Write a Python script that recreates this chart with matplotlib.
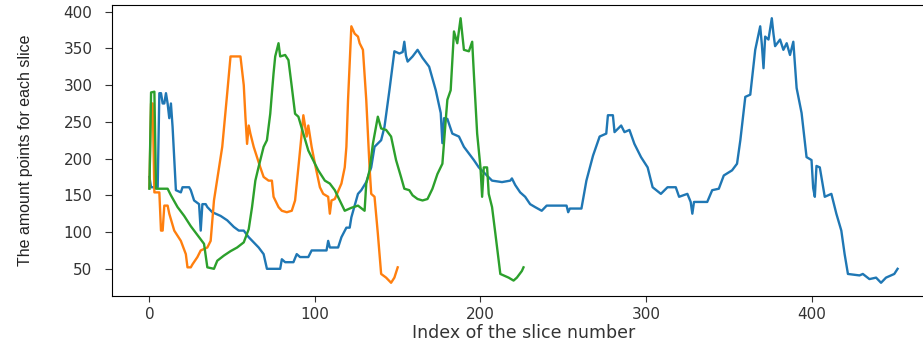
import numpy as np
import matplotlib
matplotlib.use('Agg')
from matplotlib import pyplot as plt

# breakpoints (slice index, amount of points)
blue_x = [0, 1, 5, 6, 7, 8, 9, 10, 11, 12, 13, 14, 16, 19, 20, 24, 25, 27, 30, 31, 32, 34, 35, 38,
          43, 47, 51, 54, 57, 60, 66, 69, 71, 79, 80, 82, 87, 89, 91, 96, 98, 107, 108, 109, 114,
          116, 119, 121, 122, 126, 128, 131, 134, 136, 140, 142, 145, 148, 151, 153, 154, 155, 156,
          159, 162, 165, 169, 173, 176, 177, 178, 180, 183, 187, 190, 193, 196, 199, 203, 207, 213,
          218, 219, 221, 224, 227, 230, 233, 237, 240, 252, 253, 254, 261, 264, 268, 272, 276, 277,
          280, 281, 285, 287, 290, 293, 297, 301, 304, 309, 313, 318, 320, 325, 327, 328, 329, 337,
          340, 344, 347, 352, 355, 357, 360, 363, 366, 369, 370, 371, 372, 374, 376, 377, 378, 381,
          383, 385, 387, 389, 391, 394, 397, 400, 401, 402, 403, 405, 408, 412, 415, 418, 420, 422,
          429, 431, 435, 439, 442, 445, 450, 452]
blue_y = [175, 161, 161, 289, 289, 275, 275, 289, 275, 255, 275, 243, 157, 154, 161, 161, 157, 143,
          138, 102, 138, 138, 134, 127, 122, 116, 107, 102, 102, 93, 79, 70, 50, 50, 63, 59, 59, 70,
          66, 66, 75, 75, 88, 79, 79, 93, 106, 106, 120, 152, 157, 168, 188, 216, 225, 243, 293, 346,
          343, 345, 359, 340, 332, 339, 348, 337, 325, 293, 262, 221, 255, 254, 234, 230, 216, 207,
          198, 188, 179, 170, 168, 170, 173, 164, 154, 148, 138, 134, 129, 136, 136, 127, 132, 132,
          170, 204, 230, 234, 259, 259, 236, 245, 236, 239, 220, 202, 188, 161, 152, 161, 161, 148,
          152, 141, 125, 141, 141, 157, 159, 177, 184, 193, 225, 284, 287, 348, 380, 355, 323, 366,
          362, 391, 370, 353, 362, 348, 357, 341, 359, 296, 262, 202, 198, 160, 148, 190, 188, 148,
          152, 125, 102, 70, 43, 41, 43, 36, 38, 31, 38, 43, 50]

orange_x = [0, 1, 2, 3, 6, 7, 8, 9, 11, 12, 15, 19, 22, 23, 25, 26, 29, 31, 35, 37, 39, 44, 47, 49,
            55, 57, 58, 59, 60, 61, 63, 65, 67, 69, 72, 74, 75, 78, 80, 83, 86, 88, 90, 92, 93, 94,
            95, 96, 98, 100, 103, 105, 108, 109, 110, 112, 116, 118, 119, 120, 122, 124, 126, 127,
            129, 131, 133, 134, 136, 138, 140, 143, 146, 148, 150]
orange_y = [160, 275, 275, 154, 154, 102, 102, 136, 136, 125, 102, 88, 70, 52, 52, 56, 66, 75, 79,
            88, 143, 216, 289, 339, 339, 300, 257, 220, 245, 234, 216, 202, 188, 175, 170, 170, 148,
            134, 129, 127, 129, 143, 188, 234, 259, 245, 230, 245, 216, 193, 161, 152, 148, 125, 143,
            145, 166, 188, 216, 280, 380, 370, 366, 357, 348, 280, 188, 152, 148, 98, 43, 38, 31, 38,
            52]

green_x = [0, 1, 3, 4, 11, 13, 17, 21, 25, 29, 33, 35, 39, 41, 45, 49, 53, 57, 60, 62, 64, 66, 69,
           71, 73, 74, 75, 76, 78, 79, 82, 84, 86, 88, 90, 93, 96, 98, 102, 106, 109, 112, 115, 118,
           122, 126, 130, 131, 133, 135, 138, 140, 143, 146, 149, 152, 154, 157, 159, 162, 165, 168,
           171, 174, 177, 179, 180, 182, 184, 186, 188, 190, 193, 195, 196, 198, 200, 201, 202, 204,
           205, 207, 209, 212, 215, 217, 220, 222, 225, 226]
green_y = [159, 290, 291, 159, 159, 150, 134, 122, 108, 96, 84, 52, 50, 61, 68, 74, 79, 86, 104,
           134, 170, 189, 216, 225, 261, 289, 316, 339, 357, 339, 341, 334, 298, 261, 257, 234, 211,
           202, 184, 170, 166, 157, 143, 129, 133, 136, 129, 166, 184, 220, 257, 241, 239, 230, 198,
           175, 159, 157, 150, 145, 143, 145, 159, 179, 193, 252, 280, 293, 373, 357, 391, 348, 346,
           359, 316, 234, 188, 148, 188, 188, 152, 134, 98, 43, 40, 38, 34, 38, 47, 52]

plt.rcParams['font.family'] = ['DejaVu Sans']

fig = plt.figure(figsize=(9.23, 3.43), dpi=100)
# the reference is cropped on the right, so the axes run past the figure edge
ax = fig.add_axes([112 / 923, 47 / 343, 823 / 923, 291 / 343])

ax.plot(blue_x, blue_y, color='#1f77b4', linewidth=1.7)
ax.plot(orange_x, orange_y, color='#ff7f0e', linewidth=1.7)
ax.plot(green_x, green_y, color='#2ca02c', linewidth=1.7)

ax.set_xticks([0, 100, 200, 300, 400])
ax.set_yticks([50, 100, 150, 200, 250, 300, 350, 400])
ax.tick_params(axis='both', labelsize=11, colors='#333333')
ax.tick_params(axis='y', length=5, pad=9)
ax.tick_params(axis='x', length=4, pad=4)
ax.set_xlabel('Index of the slice number', fontsize=12.5, color='#333333', labelpad=1)
ax.set_ylabel('The amount points for each slice', fontsize=11.5, color='#222222',
              family=['Liberation Sans', 'DejaVu Sans'])
ax.yaxis.set_label_coords(-0.096, 0.5)

plt.savefig('out.png', dpi=100)
